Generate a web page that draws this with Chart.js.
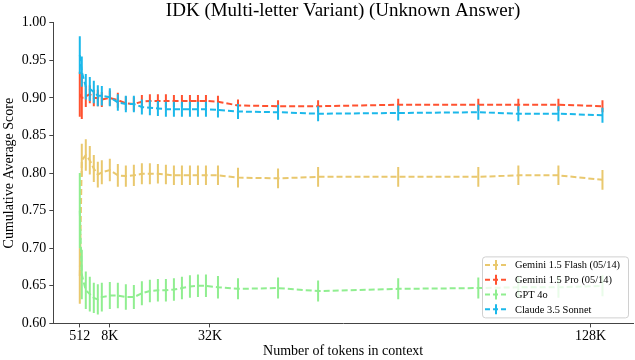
<!DOCTYPE html>
<html>
<head>
<meta charset="utf-8">
<script src="https://cdn.jsdelivr.net/npm/chart.js@4.4.1/dist/chart.umd.min.js"></script>
<style>
    body { margin: 0; background: #fff; }
    #wrap { width: 635px; height: 360px; }
</style>
</head>
<body>
<div id="wrap"><canvas id="chart" width="635" height="360"></canvas></div>
<script>
// Context lengths (tokens) where the cumulative score was measured
const tokens = [512, 1024, 2048, 3072, 4096, 5120, 6144, 8192, 10240, 12288, 14336, 16384, 18432, 20480,
    22528, 24576, 26624, 28672, 30720, 32768, 35840, 40960, 51200, 61440, 81920, 102400, 112640, 122880, 134144];

// Tick labels on the x axis
const xTickValues = [512, 8192, 33792, 131072];
const xTickLabels = ['512', '8K', '32K', '128K'];

const seriesNames = ['Gemini 1.5 Flash (05/14)', 'Gemini 1.5 Pro (05/14)', 'GPT 4o', 'Claude 3.5 Sonnet'];
const seriesColors = ['#E9C86E', '#FF5230', '#90EE90', '#1BB8EA'];

// Mean scores
const flashMean = [0.663, 0.817, 0.824, 0.817, 0.806, 0.798, 0.801, 0.804, 0.797, 0.796, 0.797, 0.799, 0.799, 0.799,
    0.798, 0.797, 0.797, 0.797, 0.797, 0.797, 0.797, 0.794, 0.793, 0.795, 0.795, 0.795, 0.797, 0.797, 0.791];
const proMean = [0.905, 0.900, 0.902, 0.905, 0.900, 0.900, 0.898, 0.900, 0.897, 0.893, 0.892, 0.895, 0.896, 0.896,
    0.896, 0.896, 0.896, 0.896, 0.896, 0.896, 0.895, 0.890, 0.889, 0.889, 0.891, 0.891, 0.891, 0.891, 0.889];
const gptMean = [0.750, 0.665, 0.644, 0.639, 0.634, 0.632, 0.635, 0.637, 0.637, 0.635, 0.635, 0.640, 0.643, 0.644,
    0.644, 0.645, 0.647, 0.649, 0.650, 0.650, 0.648, 0.646, 0.647, 0.643, 0.646, 0.647, 0.648, 0.648, 0.650];
const claudeMean = [0.957, 0.935, 0.915, 0.912, 0.908, 0.903, 0.903, 0.901, 0.894, 0.892, 0.892, 0.888, 0.887, 0.886,
    0.885, 0.885, 0.885, 0.885, 0.885, 0.885, 0.884, 0.882, 0.881, 0.879, 0.880, 0.881, 0.879, 0.879, 0.877];

// Error bar half-widths
const flashErr = [0.037, 0.022, 0.021, 0.019, 0.018, 0.017, 0.016, 0.015, 0.015, 0.014, 0.014, 0.014, 0.014, 0.013,
    0.013, 0.013, 0.013, 0.013, 0.013, 0.013, 0.013, 0.013, 0.013, 0.013, 0.013, 0.013, 0.013, 0.013, 0.013];
const proErr = [0.030, 0.028, 0.014, 0.012, 0.011, 0.011, 0.010, 0.010, 0.010, 0.009, 0.009, 0.009, 0.009, 0.009,
    0.009, 0.008, 0.008, 0.008, 0.008, 0.008, 0.008, 0.008, 0.008, 0.008, 0.008, 0.008, 0.008, 0.008, 0.008];
const gptErr = [0.050, 0.033, 0.025, 0.023, 0.020, 0.020, 0.019, 0.018, 0.017, 0.017, 0.016, 0.016, 0.015, 0.015,
    0.015, 0.015, 0.015, 0.015, 0.015, 0.015, 0.015, 0.014, 0.014, 0.014, 0.014, 0.014, 0.014, 0.014, 0.014];
const claudeErr = [0.025, 0.020, 0.017, 0.016, 0.015, 0.014, 0.013, 0.012, 0.011, 0.011, 0.011, 0.010, 0.010, 0.010,
    0.010, 0.010, 0.010, 0.010, 0.010, 0.010, 0.010, 0.010, 0.010, 0.010, 0.010, 0.010, 0.010, 0.010, 0.010];

const means = [flashMean, proMean, gptMean, claudeMean];
const errs = [flashErr, proErr, gptErr, claudeErr];

const serif = 'Liberation Serif, Times New Roman, serif';

// Center the title over the plot area rather than the whole canvas
const titleOverPlot = {
    id: 'titleOverPlot',
    afterLayout(chart) {
        const t = chart.titleBlock;
        if (!t) return;
        t.left = chart.chartArea.left;
        t.right = chart.chartArea.right;
        t.width = t.right - t.left;
    }
};

// Draw vertical error bars right after each dataset's line
const errorBars = {
    id: 'errorBars',
    afterDatasetDraw(chart, args) {
        const ds = chart.data.datasets[args.index];
        const xs = chart.scales.x, ys = chart.scales.y;
        const ctx = chart.ctx;
        const area = chart.chartArea;
        ctx.save();
        ctx.beginPath();
        ctx.rect(area.left, area.top, area.right - area.left, area.bottom - area.top);
        ctx.clip();
        ctx.strokeStyle = ds.borderColor;
        ctx.lineWidth = 2;
        ctx.setLineDash([]);
        ds.data.forEach((p, i) => {
            const px = xs.getPixelForValue(p.x);
            ctx.beginPath();
            ctx.moveTo(px, ys.getPixelForValue(p.y - ds.errors[i]));
            ctx.lineTo(px, ys.getPixelForValue(p.y + ds.errors[i]));
            ctx.stroke();
        });
        ctx.restore();
    }
};

// Legend box inside the lower right of the plot
const boxLegend = {
    id: 'boxLegend',
    afterDraw(chart) {
        const ctx = chart.ctx;
        const area = chart.chartArea;
        const w = 146, h = 61;
        const x = area.right - w - 5, y = area.bottom - h - 6;
        ctx.save();
        ctx.beginPath();
        ctx.roundRect(x + 0.5, y + 0.5, w, h, 3);
        ctx.fillStyle = 'rgba(255,255,255,0.8)';
        ctx.fill();
        ctx.strokeStyle = '#d0d0d0';
        ctx.lineWidth = 1;
        ctx.stroke();
        ctx.font = '10.4px ' + serif;
        ctx.textBaseline = 'middle';
        chart.data.datasets.forEach((ds, i) => {
            const ry = y + 8.5 + i * 14.8;
            ctx.strokeStyle = ds.borderColor;
            ctx.lineWidth = 2;
            ctx.setLineDash([5, 3]);
            ctx.beginPath();
            ctx.moveTo(x + 3, ry);
            ctx.lineTo(x + 25, ry);
            ctx.stroke();
            ctx.setLineDash([]);
            ctx.beginPath();
            ctx.moveTo(x + 14, ry - 5);
            ctx.lineTo(x + 14, ry + 5);
            ctx.stroke();
            ctx.fillStyle = '#000';
            ctx.fillText(ds.label, x + 33, ry + 0.5);
        });
        ctx.restore();
    }
};

const datasets = seriesNames.map((name, s) => ({
    label: name,
    data: tokens.map((t, i) => ({ x: t, y: means[s][i] })),
    errors: errs[s],
    borderColor: seriesColors[s],
    borderWidth: 2,
    borderDash: [6, 3],
    pointRadius: 0,
    tension: 0,
    fill: false,
    order: 3 - s
}));

new Chart(document.getElementById('chart'), {
    type: 'line',
    data: { datasets: datasets },
    plugins: [titleOverPlot, errorBars, boxLegend],
    options: {
        responsive: false,
        animation: false,
        layout: { padding: { left: 1, right: 2, top: 0, bottom: 0 } },
        plugins: {
            legend: { display: false },
            tooltip: { enabled: false },
            title: {
                display: true,
                text: 'IDK (Multi-letter Variant) (Unknown Answer)',
                color: '#000',
                font: { family: serif, size: 19, weight: 'normal' },
                padding: { top: 0, bottom: 0 }
            }
        },
        scales: {
            x: {
                type: 'linear',
                min: -6260,
                max: 141950,
                afterBuildTicks: axis => {
                    axis.ticks = xTickValues.map(v => ({ value: v }));
                },
                ticks: {
                    callback: v => xTickLabels[xTickValues.indexOf(v)],
                    color: '#000',
                    font: { family: serif, size: 14 },
                    padding: 1,
                    maxRotation: 0,
                    autoSkip: false
                },
                grid: { drawOnChartArea: false, tickLength: 4, color: '#444' },
                border: { color: '#444' },
                title: {
                    display: true,
                    text: 'Number of tokens in context',
                    color: '#000',
                    font: { family: serif, size: 14 },
                    padding: { top: -3, bottom: 0 }
                }
            },
            y: {
                min: 0.6,
                max: 1.0,
                ticks: {
                    stepSize: 0.05,
                    callback: v => v.toFixed(2),
                    color: '#000',
                    font: { family: serif, size: 14 },
                    padding: 3
                },
                grid: { drawOnChartArea: false, tickLength: 4, color: '#444' },
                border: { color: '#444' },
                title: {
                    display: true,
                    text: 'Cumulative Average Score',
                    color: '#000',
                    font: { family: serif, size: 14 },
                    padding: { top: 0, bottom: 1 }
                }
            }
        }
    }
});
</script>
</body>
</html>
